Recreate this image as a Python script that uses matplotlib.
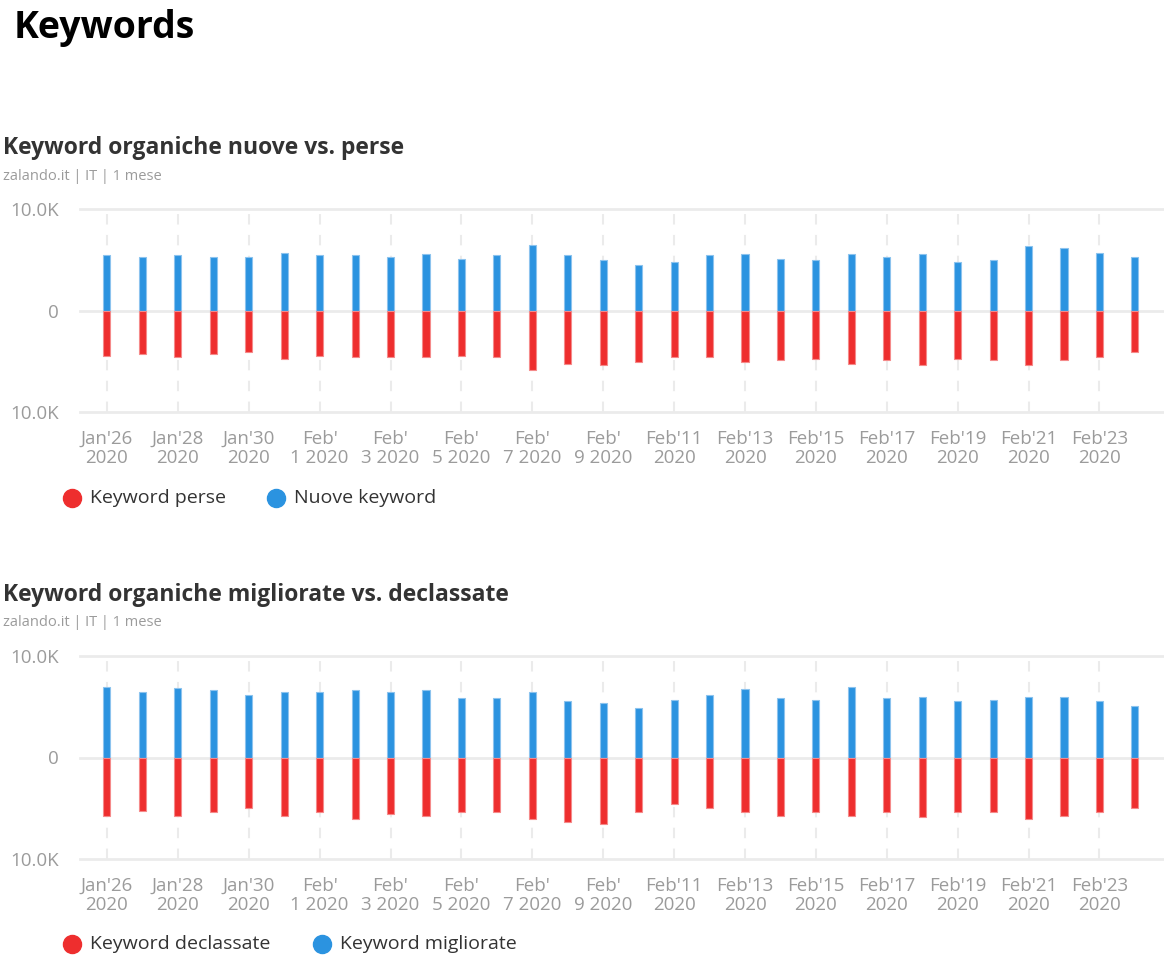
import matplotlib
matplotlib.use("Agg")
import matplotlib.pyplot as plt
from matplotlib.lines import Line2D

plt.rcParams['font.family'] = ['Open Sans', 'DejaVu Sans']

tick_labels = ["Jan'26\n2020", "Jan'28\n2020", "Jan'30\n2020", "Feb'\n1 2020", "Feb'\n3 2020",
               "Feb'\n5 2020", "Feb'\n7 2020", "Feb'\n9 2020", "Feb'11\n2020", "Feb'13\n2020",
               "Feb'15\n2020", "Feb'17\n2020", "Feb'19\n2020", "Feb'21\n2020", "Feb'23\n2020"]

days = list(range(30))

nuove = [5420, 5260, 5420, 5260, 5260, 5710, 5420, 5420, 5260, 5550, 5100, 5420, 6490, 5420,
         4940, 4480, 4770, 5420, 5550, 5100, 4940, 5550, 5260, 5550, 4770, 4940, 6330, 6170, 5710, 5260]
perse = [4450, 4290, 4610, 4290, 4120, 4740, 4450, 4610, 4610, 4610, 4450, 4610, 5840, 5230,
         5390, 5060, 4610, 4610, 5060, 4900, 4740, 5230, 4900, 5390, 4740, 4900, 5390, 4900, 4610, 4120]

migliorate = [6970, 6480, 6810, 6640, 6190, 6480, 6480, 6640, 6480, 6640, 5860, 5860, 6480, 5540,
              5370, 4920, 5700, 6160, 6780, 5860, 5700, 6940, 5860, 5990, 5540, 5700, 5990, 5990, 5540, 5080]
declassate = [5730, 5240, 5730, 5410, 4950, 5730, 5410, 6060, 5570, 5730, 5410, 5410, 6060, 6350,
              6510, 5410, 4630, 4950, 5410, 5730, 5410, 5730, 5410, 5900, 5410, 5410, 6060, 5730, 5410, 4950]

BLUE = '#2b93e0'
BLUE_EDGE = '#8cc3ee'
RED = '#ee2e2e'
RED_EDGE = '#f58a8a'
GRID = '#ebebeb'
GRAY = '#9b9b9b'
DARK = '#333333'

W, H = 1164, 964
fig = plt.figure(figsize=(W / 100, H / 100), dpi=100)


def fx(px):
    return px / W


def fy(py):
    return 1 - py / H


fig.text(fx(14), fy(28), "Keywords", fontsize=27, fontweight='bold', color='black', va='center', ha='left')


def panel(top, zero, bottom, title, title_y, sub_y, pos, neg, legend_y, leg_names, leg2_x):
    ax = fig.add_axes([fx(80), fy(bottom), fx(W) - fx(80), (bottom - top) / H])
    ax.set_xlim(-0.76, 29.82)
    ax.set_ylim(-10000, 10000)
    for s in ax.spines.values():
        s.set_visible(False)
    for yv in (-10000, 0, 10000):
        ax.axhline(yv, color=GRID, lw=2, zorder=1, clip_on=False)
    ticks = list(range(0, 30, 2))
    for t in ticks:
        ax.axvline(t, color=GRID, lw=1.5, ls=(0, (5, 5)), zorder=0.5)
    ax.bar(days, pos, width=0.2, bottom=0, color=BLUE, edgecolor=BLUE_EDGE, linewidth=0.8, zorder=3)
    ax.bar(days, [-v for v in neg], width=0.2, bottom=0, color=RED, edgecolor=RED_EDGE, linewidth=0.8, zorder=3)
    ax.set_xticks(ticks)
    ax.set_xticklabels(tick_labels, fontsize=13.5, color=GRAY, linespacing=1.1)
    ax.set_yticks([-10000, 0, 10000])
    ax.set_yticklabels(["10.0K", "0", "10.0K"], fontsize=13.5, color=GRAY)
    ax.tick_params(length=0)
    ax.tick_params(axis='x', pad=13)
    ax.tick_params(axis='y', pad=15)
    ax.patch.set_alpha(0)

    fig.text(fx(3), fy(title_y), title, fontsize=16.5, fontweight='bold', color=DARK, va='center', ha='left')
    fig.text(fx(3), fy(sub_y), "zalando.it | IT | 1 mese", fontsize=10.5, color=GRAY, va='center', ha='left')

    fig.add_artist(Line2D([fx(72)], [fy(legend_y)], marker='o', markersize=13, color=RED, ls='none',
                          transform=fig.transFigure))
    fig.text(fx(90), fy(legend_y), leg_names[0], fontsize=14, color=DARK, va='center', ha='left')
    fig.add_artist(Line2D([fx(leg2_x)], [fy(legend_y)], marker='o', markersize=13, color=BLUE, ls='none',
                          transform=fig.transFigure))
    fig.text(fx(leg2_x + 18), fy(legend_y), leg_names[1], fontsize=14, color=DARK, va='center', ha='left')
    return ax


panel(209, 311, 412, "Keyword organiche nuove vs. perse", 148, 176, nuove, perse, 498,
      ["Keyword perse", "Nuove keyword"], 276)
panel(656, 758, 859, "Keyword organiche migliorate vs. declassate", 595, 622, migliorate, declassate, 944,
      ["Keyword declassate", "Keyword migliorate"], 322)

fig.savefig("out.png", dpi=100)
